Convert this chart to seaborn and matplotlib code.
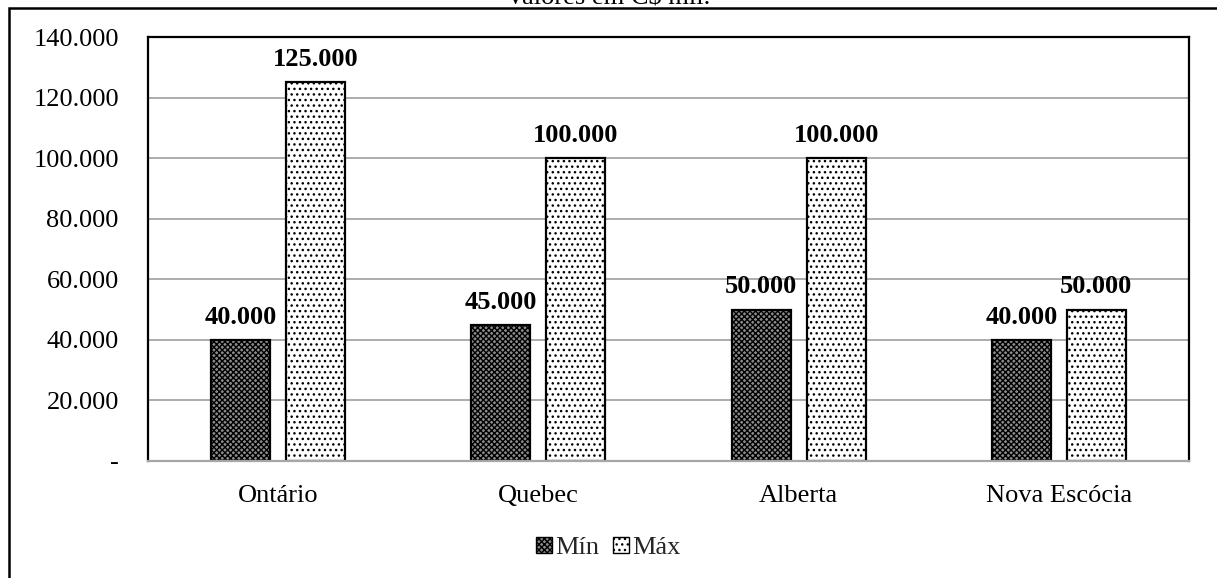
import matplotlib
matplotlib.use("Agg")
import matplotlib.pyplot as plt
from matplotlib.patches import Rectangle, Patch
import seaborn as sns
import pandas as pd

# Faixas salariais por província (C$ mil)
provincias = ["Ontário", "Quebec", "Alberta", "Nova Escócia"]
minimo = [40000, 45000, 50000, 40000]
maximo = [125000, 100000, 100000, 50000]
series = ["Mín", "Máx"]
y_ticks = [0, 20000, 40000, 60000, 80000, 100000, 120000, 140000]
titulo = "Valores em C$ mil."

df = pd.DataFrame({
    "provincia": provincias * 2,
    "serie": [series[0]] * len(provincias) + [series[1]] * len(provincias),
    "valor": minimo + maximo,
})

sns.set_theme(style="white")
plt.rcParams["font.family"] = ["Liberation Serif", "DejaVu Serif"]
plt.rcParams["hatch.linewidth"] = 1.0

W, H = 1217, 578
fig = plt.figure(figsize=(W / 100, H / 100), dpi=100)
ax = fig.add_axes([148 / W, 1 - 461 / H, (1189 - 148) / W, (461 - 37) / H])

sns.barplot(data=df, x="provincia", y="valor", hue="serie", order=provincias,
            hue_order=series, width=0.576, gap=0.213, dodge=True,
            palette=["white", "white"], edgecolor="black", linewidth=1.6,
            errorbar=None, legend=False, ax=ax)

hatches = {"Mín": "xxxxxx", "Máx": "..."}
faces = {"Mín": "#8c8c8c", "Máx": "white"}
for container, serie in zip(ax.containers, series):
    for bar in container:
        bar.set_hatch(hatches[serie])
        bar.set_facecolor(faces[serie])
        bar.set_edgecolor("black")
    labels = [f"{v:,.0f}".replace(",", ".") for v in container.datavalues]
    ax.bar_label(container, labels=labels, padding=8, fontsize=19,
                 fontweight="bold", color="black")

ax.set_ylim(0, 140000)
ax.set_yticks(y_ticks)
ax.set_yticklabels(["-" if v == 0 else f"{v:,.0f}".replace(",", ".") for v in y_ticks])
ax.set_xlabel("")
ax.set_ylabel("")
ax.tick_params(axis="y", length=0, pad=21, labelsize=19, colors="black")
ax.tick_params(axis="x", length=0, pad=17, labelsize=19, colors="black")
ax.yaxis.grid(True, color="#a6a6a6", linewidth=1.3)
ax.set_axisbelow(True)
for side in ["left", "top", "right"]:
    ax.spines[side].set_color("black")
    ax.spines[side].set_linewidth(1.6)
ax.spines["bottom"].set_color("#a6a6a6")
ax.spines["bottom"].set_linewidth(1.6)

handles = [Patch(facecolor=faces[s], edgecolor="black", hatch=hatches[s], linewidth=1.0)
           for s in series]
fig.legend(handles, series, loc="center", bbox_to_anchor=(0.5, 1 - 548 / H),
           ncol=2, frameon=False, fontsize=19, handlelength=0.6, handleheight=0.6,
           handletextpad=0.15, columnspacing=0.5)

# Moldura externa do gráfico
fig.patches.append(Rectangle((8.5 / W, -0.1), 1.2, 1 - 8.5 / H + 0.1,
                             transform=fig.transFigure, fill=False,
                             edgecolor="black", linewidth=1.8))
fig.text(0.5, 1 - 4 / H, titulo, ha="center", va="baseline", fontsize=19,
         color="black")

fig.savefig("out.png", dpi=100)
